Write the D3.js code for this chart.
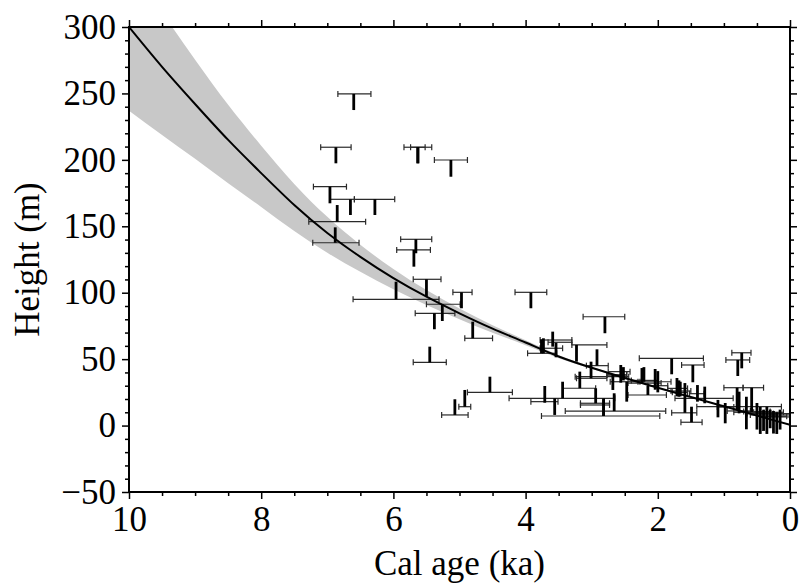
<!DOCTYPE html>
<html><head><meta charset="utf-8">
<script src="https://cdn.jsdelivr.net/npm/d3@7/dist/d3.min.js"></script>
<style>
body{margin:0;background:#fff}
</style>
</head><body>
<svg id="chart" width="801" height="585"></svg>
<script>
// ---- data ----
const curveAge = [10,9.5,9,8.5,8,7.5,7,6.5,6,5.5,5,4.5,4,3.5,3,2.5,2,1.5,1,0.5,0];
const curveH   = [300,270,242,215,190,166,145,127,111,97,84.5,73,62.5,52,43.5,35.8,28.5,21.5,14.5,7.5,0.5];
const bandUpper= [351,311.4,275.3,241.4,210.7,181.9,157.1,136.1,117.8,102,88.1,75.5,64.2,53.1,44.2,36.2,28.7,21.6,14.5,7.5,0.5];
const bandLower= [237,218.8,200.8,182.4,164.5,146.4,130.1,115.7,102.6,90.8,80.1,69.9,60.4,50.7,42.7,35.3,28.3,21.4,14.5,7.5,0.5];

// sample points: age of vertical bar, age range, height of horizontal bar, vertical bar top/bottom
const ptAge  = [6.60,6.87,6.96,6.65,6.28,6.85,6.88,5.66,5.69,5.63,5.63,5.13,5.50,5.96,4.97,3.92,5.26,5.38,4.80,5.45,4.54,4.92,5.07,2.80,3.59,3.23,3.76,3.73,3.54,2.92,3.01,3.18,3.44,2.94,2.56,2.52,2.68,2.47,3.71,3.56,2.82,2.66,2.82,1.79,1.47,0.73,0.79,0.80,0.58,2.24,2.21,2.04,2.00,2.15,1.71,1.68,1.66,1.59,1.49,1.40,1.29,1.09,0.98,0.77,0.66,0.50,0.45,0.40,0.35,0.30,0.25,0.20,0.15];
const ptAgeLo= [6.34,6.64,6.71,6.59,5.98,6.42,6.52,5.42,5.44,5.52,5.42,4.88,5.28,5.31,4.81,3.68,4.99,5.07,4.50,5.20,4.20,4.83,4.87,2.50,3.30,2.77,3.44,3.30,3.53,2.75,2.77,2.44,2.94,2.73,2.42,2.47,2.47,2.27,2.65,3.51,2.73,1.88,1.97,1.31,1.30,0.59,0.61,0.71,0.40,1.95,2.00,1.80,1.85,1.87,1.55,1.50,1.55,1.41,1.33,1.30,0.86,0.13,0.85,0.60,0.45,0.30,0.25,0.20,0.10,0.05,0.00,0.00,0.00];
const ptAgeHi= [6.84,7.10,7.21,6.96,6.59,7.28,7.22,5.89,5.95,5.84,5.74,5.38,5.70,6.61,5.10,4.16,5.50,5.67,4.92,5.70,4.88,5.01,5.27,3.13,3.66,3.30,3.78,3.78,3.97,3.08,3.23,3.25,3.43,3.17,2.75,2.77,2.77,2.72,4.25,3.92,3.17,3.40,3.76,2.28,1.64,0.88,0.97,1.00,0.71,2.45,2.40,2.30,2.15,2.45,1.85,1.80,1.78,1.79,1.65,1.52,1.74,1.41,1.10,0.95,0.85,0.70,0.65,0.60,0.55,0.50,0.45,0.40,0.30];
const ptBar  = [249.6,209.5,179.8,170.3,170.3,153.5,137.6,140.2,132.2,209.5,209.5,199.9,110.1,95.0,100.3,100.3,91.3,84.5,65.7,47.6,25.0,14.2,8.0,81.9,62.7,60.7,58.2,64.4,54.4,45.1,35.6,36.8,28.1,16.8,40.6,38.1,38.1,33.0,20.5,18.0,15.5,10.9,7.2,50.6,45.6,54.8,49.4,28.5,28.5,32.0,34.0,33.0,30.0,23.0,28.0,26.0,25.0,9.6,2.5,24.0,20.5,14.2,14.0,11.0,10.0,10.5,9.0,8.0,10.0,7.0,9.0,6.5,8.0];
const ptTop  = [249.6,209.5,179.8,170.3,170.3,166.0,149.2,140.2,132.2,209.5,209.5,199.9,110.1,108.3,100.3,100.3,91.3,84.5,78.2,59.4,36.8,26.8,19.8,81.9,70.7,60.7,64.9,65.7,62.4,57.4,48.1,40.6,33.0,28.1,45.6,44.0,38.1,33.0,29.8,20.5,19.8,24.3,20.5,50.6,45.6,54.8,49.4,28.5,28.5,43.3,44.0,42.6,41.0,30.0,35.8,34.0,33.0,32.0,14.2,30.5,29.3,19.3,17.0,25.5,21.7,17.0,14.0,12.0,14.2,12.0,11.0,10.0,12.0];
const ptBot  = [237.5,197.4,167.3,158.5,158.5,153.5,137.6,129.7,119.6,197.4,197.4,187.3,97.0,95.0,88.3,88.3,78.7,72.5,65.7,47.6,25.0,14.2,8.0,69.5,59.4,48.1,54.4,54.4,51.4,45.1,35.6,28.1,20.5,16.8,32.3,34.0,26.8,18.0,17.2,8.0,7.2,10.9,7.2,38.6,32.6,43.1,37.3,11.7,10.0,32.0,33.0,27.0,25.0,23.0,22.0,21.7,22.0,9.6,2.5,18.0,16.8,6.2,1.7,9.2,-2.8,-3.0,-6.3,-4.0,-6.3,-2.0,-6.0,-6.3,-3.0];

const xMajor = [10,8,6,4,2,0];
const xLabels = ["10","8","6","4","2","0"];
const yMajor = [-50,0,50,100,150,200,250,300];
const yLabels = ["\u221250","0","50","100","150","200","250","300"];
const xTitle = "Cal age (ka)";
const yTitle = "Height (m)";

// ---- layout ----
const FONT = "Liberation Serif, Times New Roman, Times, DejaVu Serif, serif";
const L=129, R=790, T=27, B=492;
const x = d3.scaleLinear().domain([10,0]).range([L,R]);
const y = d3.scaleLinear().domain([-50,300]).range([B,T]);
const svg = d3.select("#chart");

svg.append("defs").append("clipPath").attr("id","clip")
  .append("rect").attr("x",L).attr("y",T).attr("width",R-L).attr("height",B-T);

const plot = svg.append("g").attr("clip-path","url(#clip)");
const idx = d3.range(curveAge.length);

plot.append("path")
  .attr("d", d3.area().x(i=>x(curveAge[i])).y0(i=>y(bandLower[i])).y1(i=>y(bandUpper[i])).curve(d3.curveNatural)(idx))
  .attr("fill","#c8c8c8");

// points
const pts = d3.range(ptAge.length);
const capH = 3;
const g = plot.append("g");
pts.forEach(i=>{
  const yb = y(ptBar[i]);
  const x0 = x(ptAgeHi[i]), x1 = x(ptAgeLo[i]);
  g.append("line").attr("x1",x0).attr("x2",x1).attr("y1",yb).attr("y2",yb)
    .attr("stroke","#2a2a2a").attr("stroke-width",1.2);
  [x0,x1].forEach(xx=>g.append("line").attr("x1",xx).attr("x2",xx).attr("y1",yb-capH).attr("y2",yb+capH)
    .attr("stroke","#2a2a2a").attr("stroke-width",1.2));
});
pts.forEach(i=>{
  if (ptTop[i]!==ptBot[i]) {
    g.append("line").attr("x1",x(ptAge[i])).attr("x2",x(ptAge[i]))
      .attr("y1",y(ptTop[i])).attr("y2",y(ptBot[i]))
      .attr("stroke","#000").attr("stroke-width",2.8);
  }
});

plot.append("path")
  .attr("d", d3.line().x(i=>x(curveAge[i])).y(i=>y(curveH[i])).curve(d3.curveNatural)(idx))
  .attr("fill","none").attr("stroke","#000").attr("stroke-width",2);

// ---- axes ----
const xMinor = d3.range(0,10.01,0.5).filter(v=>xMajor.indexOf(v)<0);
const yMinor = d3.range(-50,300.1,10).filter(v=>yMajor.indexOf(v)<0);
const fs = 35;

function styleAxis(sel){
  sel.select(".domain").remove();
  sel.selectAll("line").attr("stroke","#000").attr("stroke-width",1.5);
  sel.attr("font-family",FONT);
  sel.selectAll("text").attr("font-family",FONT).attr("fill","#000");
}
const bottom = svg.append("g").attr("transform",`translate(0,${B})`)
  .call(d3.axisBottom(x).tickValues(xMajor).tickSize(7).tickPadding(7)
    .tickFormat((d,i)=>xLabels[i]));
styleAxis(bottom);
bottom.selectAll("text").attr("font-size",fs);
svg.append("g").attr("transform",`translate(0,${B})`)
  .call(d3.axisBottom(x).tickValues(xMinor).tickSize(4).tickFormat("")).call(styleAxis);
svg.append("g").attr("transform",`translate(0,${T})`)
  .call(d3.axisTop(x).tickValues(xMajor).tickSize(7).tickFormat("")).call(styleAxis);
svg.append("g").attr("transform",`translate(0,${T})`)
  .call(d3.axisTop(x).tickValues(xMinor).tickSize(4).tickFormat("")).call(styleAxis);

const left = svg.append("g").attr("transform",`translate(${L},0)`)
  .call(d3.axisLeft(y).tickValues(yMajor).tickSize(7).tickPadding(6)
    .tickFormat((d,i)=>yLabels[i]));
styleAxis(left);
left.selectAll("text").attr("font-size",fs);
svg.append("g").attr("transform",`translate(${L},0)`)
  .call(d3.axisLeft(y).tickValues(yMinor).tickSize(4).tickFormat("")).call(styleAxis);
svg.append("g").attr("transform",`translate(${R},0)`)
  .call(d3.axisRight(y).tickValues(yMajor).tickSize(7).tickFormat("")).call(styleAxis);
svg.append("g").attr("transform",`translate(${R},0)`)
  .call(d3.axisRight(y).tickValues(yMinor).tickSize(4).tickFormat("")).call(styleAxis);

svg.append("rect").attr("x",L).attr("y",T).attr("width",R-L).attr("height",B-T)
  .attr("fill","none").attr("stroke","#000").attr("stroke-width",2);

svg.append("text").attr("x",(L+R)/2).attr("y",575).attr("text-anchor","middle")
  .attr("font-family",FONT).attr("font-size",fs).text(xTitle);
svg.append("text").attr("transform",`translate(39,${(T+B)/2}) rotate(-90)`)
  .attr("text-anchor","middle").attr("font-family",FONT).attr("font-size",fs).text(yTitle);
</script>
</body></html>
